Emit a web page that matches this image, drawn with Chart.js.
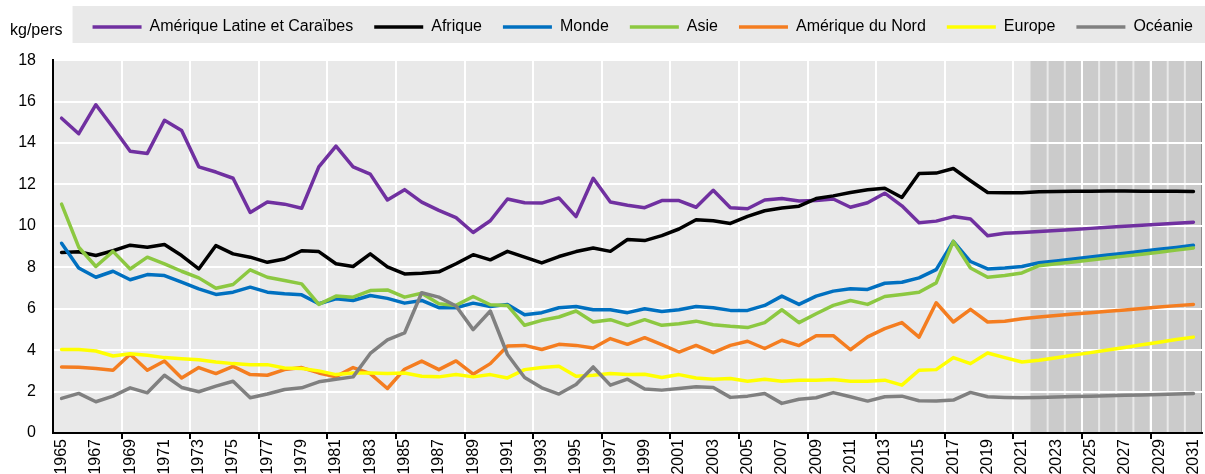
<!DOCTYPE html>
<html>
<head>
<meta charset="utf-8">
<script src="https://cdn.jsdelivr.net/npm/chart.js@4"></script>
<style>
  body { margin: 0; background: #fff; }
</style>
</head>
<body>
<canvas id="graph" width="1205" height="474"></canvas>
<script>
// années (catégories)
const annees = [1965,1966,1967,1968,1969,1970,1971,1972,1973,1974,
  1975,1976,1977,1978,1979,1980,1981,1982,1983,1984,
  1985,1986,1987,1988,1989,1990,1991,1992,1993,1994,
  1995,1996,1997,1998,1999,2000,2001,2002,2003,2004,
  2005,2006,2007,2008,2009,2010,2011,2012,2013,2014,
  2015,2016,2017,2018,2019,2020,2021,2022,2023,2024,
  2025,2026,2027,2028,2029,2030,2031];
const debutProjection = 2022;
const yTicks = [0,2,4,6,8,10,12,14,16,18];

const ameriqueLatine = [15.2,14.45,15.85,14.75,13.6,13.5,15.1,14.6,12.85,12.6,
  12.3,10.65,11.15,11.05,10.85,12.85,13.85,12.85,12.5,11.25,
  11.75,11.15,10.75,10.4,9.68,10.25,11.3,11.12,11.1,11.35,
  10.45,12.3,11.15,11.0,10.88,11.22,11.22,10.9,11.72,10.88,
  10.83,11.25,11.32,11.2,11.22,11.3,10.9,11.12,11.58,10.97,
  10.15,10.23,10.45,10.33,9.52,9.64,9.68,9.73,9.78,9.83,
  9.88,9.93,9.98,10.03,10.08,10.13,10.18];
const afrique = [8.72,8.75,8.57,8.8,9.07,8.97,9.1,8.57,7.92,9.05,
  8.65,8.49,8.24,8.4,8.8,8.76,8.17,8.04,8.65,8.02,
  7.68,7.71,7.78,8.17,8.61,8.36,8.77,8.49,8.21,8.52,
  8.76,8.93,8.77,9.34,9.29,9.53,9.85,10.3,10.25,10.12,
  10.46,10.73,10.86,10.95,11.32,11.45,11.61,11.74,11.82,11.37,
  12.53,12.55,12.77,12.18,11.61,11.6,11.6,11.65,11.66,11.67,
  11.67,11.68,11.68,11.67,11.67,11.67,11.66];
const monde = [9.16,7.97,7.52,7.81,7.4,7.65,7.6,7.28,6.96,6.69,
  6.8,7.04,6.8,6.72,6.67,6.24,6.48,6.4,6.64,6.5,
  6.27,6.4,6.05,6.05,6.27,6.11,6.21,5.71,5.81,6.05,
  6.11,5.95,5.95,5.81,6.0,5.87,5.95,6.11,6.05,5.92,
  5.92,6.16,6.61,6.21,6.61,6.85,6.96,6.93,7.23,7.28,
  7.49,7.89,9.25,8.28,7.92,7.97,8.04,8.22,8.31,8.4,
  8.5,8.59,8.68,8.77,8.87,8.96,9.06];
const asie = [11.05,8.97,8.04,8.77,7.92,8.49,8.17,7.81,7.49,6.99,
  7.17,7.88,7.52,7.36,7.2,6.21,6.61,6.56,6.88,6.91,
  6.56,6.75,6.24,6.16,6.59,6.19,6.16,5.2,5.44,5.6,
  5.89,5.36,5.47,5.2,5.47,5.2,5.28,5.4,5.23,5.15,
  5.09,5.33,5.95,5.33,5.76,6.16,6.4,6.21,6.59,6.69,
  6.8,7.25,9.25,7.97,7.52,7.6,7.73,8.08,8.17,8.26,
  8.35,8.45,8.54,8.63,8.73,8.83,8.93];
const ameriqueNord = [3.19,3.17,3.11,3.03,3.8,3.03,3.48,2.66,3.16,2.87,
  3.22,2.82,2.79,3.06,3.16,2.9,2.72,3.16,2.87,2.15,
  3.08,3.47,3.06,3.48,2.84,3.35,4.2,4.23,4.03,4.28,
  4.23,4.1,4.56,4.28,4.6,4.27,3.91,4.23,3.88,4.23,
  4.43,4.08,4.48,4.22,4.7,4.7,4.02,4.64,5.04,5.33,
  4.63,6.29,5.36,5.97,5.36,5.4,5.52,5.6,5.67,5.74,
  5.81,5.88,5.94,6.01,6.08,6.15,6.21];
const europe = [4.03,4.03,3.96,3.72,3.83,3.75,3.64,3.59,3.54,3.43,
  3.35,3.3,3.3,3.14,3.11,3.0,2.82,2.9,2.9,2.87,
  2.9,2.74,2.71,2.82,2.71,2.82,2.66,3.06,3.16,3.22,
  2.74,2.79,2.87,2.82,2.84,2.68,2.82,2.66,2.6,2.63,
  2.5,2.6,2.5,2.55,2.55,2.58,2.5,2.5,2.55,2.31,
  3.03,3.06,3.64,3.35,3.86,3.64,3.43,3.51,3.63,3.76,
  3.88,4.01,4.13,4.26,4.38,4.51,4.63];
const oceanie = [1.67,1.91,1.51,1.78,2.18,1.94,2.79,2.2,1.99,2.26,
  2.5,1.7,1.88,2.1,2.18,2.47,2.6,2.71,3.84,4.5,
  4.83,6.77,6.56,6.13,4.99,5.89,3.79,2.68,2.18,1.88,
  2.34,3.19,2.31,2.6,2.12,2.07,2.15,2.23,2.2,1.72,
  1.78,1.91,1.43,1.63,1.7,1.95,1.75,1.54,1.75,1.78,
  1.56,1.54,1.59,1.96,1.75,1.72,1.7,1.72,1.74,1.76,
  1.78,1.8,1.82,1.84,1.86,1.88,1.91];

const series = [
  { nom: 'Amérique Latine et Caraïbes', val: ameriqueLatine, coul: '#7030a0' },
  { nom: 'Afrique', val: afrique, coul: '#000000' },
  { nom: 'Monde', val: monde, coul: '#0070c0' },
  { nom: 'Asie', val: asie, coul: '#8cc841' },
  { nom: 'Amérique du Nord', val: ameriqueNord, coul: '#f47d20' },
  { nom: 'Europe', val: europe, coul: '#ffff00' },
  { nom: 'Océanie', val: oceanie, coul: '#808080' }
];

Chart.defaults.font.family = '"Liberation Sans", Arial, sans-serif';
Chart.defaults.font.size = 16;
Chart.defaults.color = '#000';

// fond gris, zone de projection hachurée, cadre de la légende, unité
const fond = {
  id: 'fond',
  afterLayout(chart) {
    // légende calée un peu plus à droite
    chart.legend.right += 12;
  },
  beforeDraw(chart) {
    const ctx = chart.ctx;
    const a = chart.chartArea;
    const x = chart.scales.x;
    ctx.save();
    const boites = chart.legend.legendHitBoxes;
    if (boites && boites.length) {
      const b0 = boites[0];
      ctx.fillStyle = '#e9e9e9';
      ctx.fillRect(b0.left - 20, b0.top - 13, chart.width - (b0.left - 20), 37);
    }
    ctx.fillStyle = '#000';
    ctx.font = '16px "Liberation Sans", Arial, sans-serif';
    ctx.textBaseline = 'middle';
    ctx.fillText('kg/pers', 10, 31);

    ctx.fillStyle = '#e9e9e9';
    ctx.fillRect(a.left, a.top, a.width, a.height);
    const i0 = annees.indexOf(debutProjection);
    ctx.fillStyle = '#cbcbcb';
    for (let i = i0; i < annees.length; i++) {
      const l = x.getPixelForValue(i - 0.5) + (i > i0 ? 1 : 0);
      const r = i === annees.length - 1 ? a.right - 1 : x.getPixelForValue(i + 0.5) - 1;
      ctx.fillRect(l, a.top, r - l, a.height);
    }
    ctx.strokeStyle = '#8c8c8c';
    ctx.lineWidth = 1;
    ctx.beginPath();
    ctx.moveTo(a.right - 0.5, a.top);
    ctx.lineTo(a.right - 0.5, a.bottom);
    ctx.stroke();
    ctx.restore();
  }
};

new Chart(document.getElementById('graph'), {
  type: 'line',
  data: {
    labels: annees,
    datasets: series.map((s, i) => ({
      label: s.nom,
      data: s.val,
      borderColor: s.coul,
      backgroundColor: s.coul,
      borderWidth: 3.5,
      borderCapStyle: 'round',
      borderJoinStyle: 'round',
      pointRadius: 0,
      tension: 0,
      order: series.length - i
    }))
  },
  options: {
    responsive: false,
    animation: false,
    layout: { padding: { top: -2, right: 3, left: 0, bottom: 0 } },
    plugins: {
      tooltip: { enabled: false },
      legend: {
        position: 'top',
        align: 'end',
        labels: {
          usePointStyle: true,
          pointStyle: 'line',
          pointStyleWidth: 49,
          boxHeight: 4,
          padding: 21,
          color: '#000',
          sort: (a, b) => a.datasetIndex - b.datasetIndex
        }
      },
      // espace entre la légende et le graphique
      subtitle: {
        display: true,
        text: '',
        weight: 500,
        font: { size: 1 },
        padding: { top: 0, bottom: 14 }
      }
    },
    scales: {
      x: {
        type: 'category',
        offset: true,
        grid: {
          offset: true,
          lineWidth: 2,
          color: c => (c.index % 4 === 0 && c.index > 0 && c.index < annees.length) ? '#ffffff' : 'rgba(0,0,0,0)',
          tickColor: c => (c.index % 4 === 0 && c.index > 0 && c.index < annees.length) ? '#000' : 'rgba(0,0,0,0)',
          tickLength: 6,
          tickWidth: 2
        },
        border: { color: '#000', width: 2 },
        ticks: {
          autoSkip: false,
          minRotation: 90,
          maxRotation: 90,
          padding: 0,
          callback: (v, i) => (i % 2 === 0 ? annees[i] : '')
        },
        afterFit: s => { s.height = 41; s.paddingLeft = 0; s.paddingRight = 0; }
      },
      y: {
        min: 0,
        max: 18,
        afterBuildTicks: s => { s.ticks = yTicks.map(v => ({ value: v })); },
        grid: { color: '#ffffff', lineWidth: 2, drawTicks: false },
        border: { color: '#000', width: 2 },
        ticks: { padding: 17 },
        afterFit: s => { s.width = 53; }
      }
    }
  },
  plugins: [fond]
});
</script>
</body>
</html>
